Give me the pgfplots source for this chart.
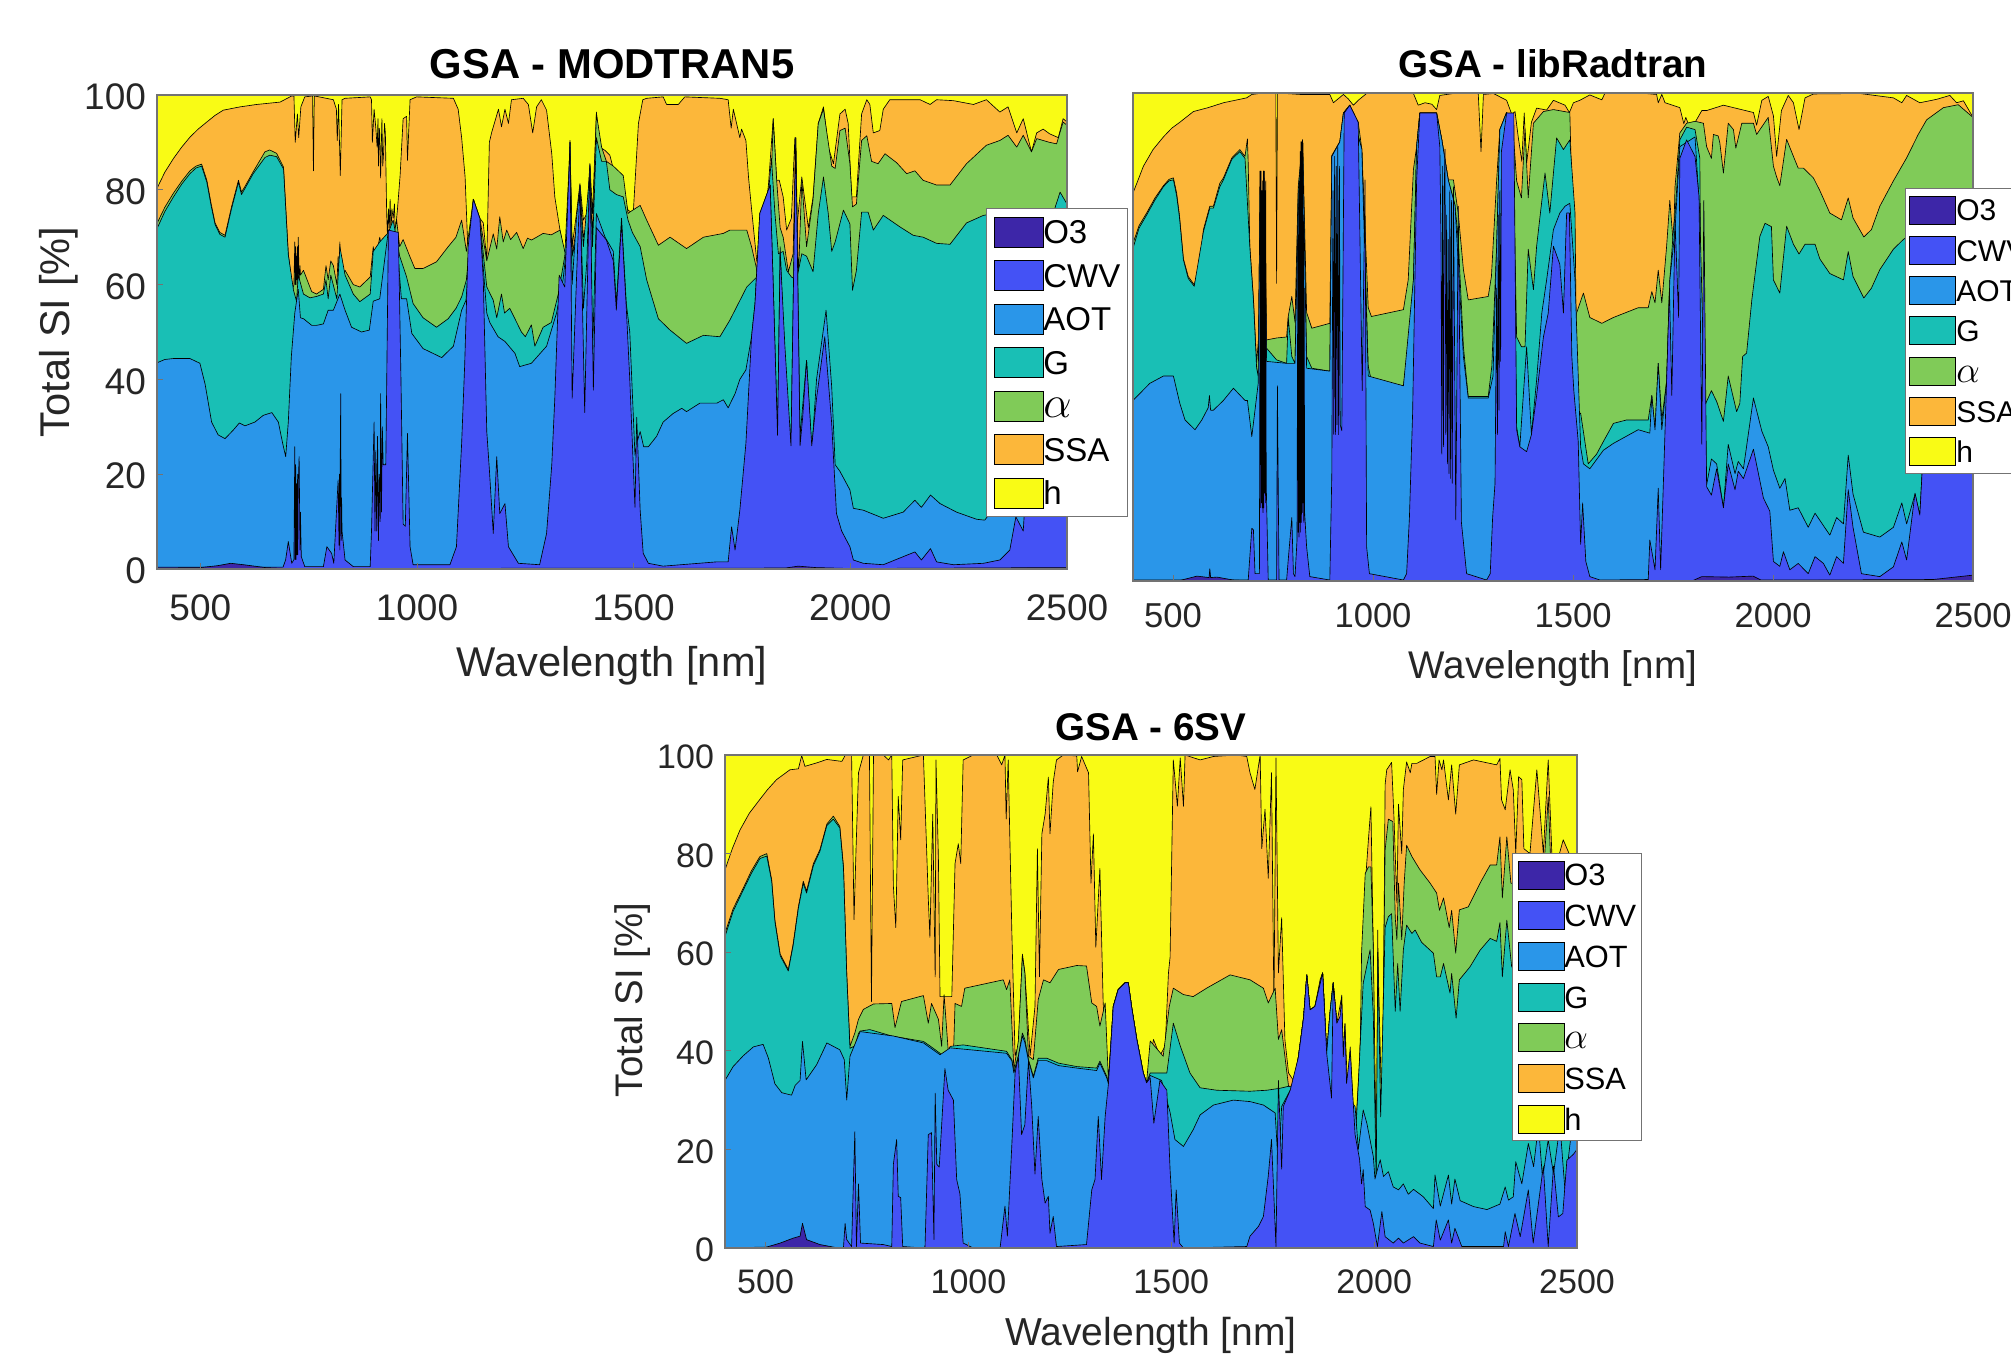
\documentclass[border=0pt]{standalone}
\usepackage{fontspec}
\setmainfont{Liberation Sans}
\usepackage{pgfplots}
\pgfplotsset{compat=1.18}
\definecolor{cO}{HTML}{3D26A8}
\definecolor{cC}{HTML}{4452F5}
\definecolor{cA}{HTML}{2A96E9}
\definecolor{cG}{HTML}{19BFB5}
\definecolor{cL}{HTML}{80CB58}
\definecolor{cS}{HTML}{FCB73A}
\definecolor{cH}{HTML}{F9FB15}
\definecolor{txt}{HTML}{262626}
\pgfplotsset{
  gsa/.style={
    scale only axis, axis on top, xmin=400, xmax=2500, ymin=0, ymax=100,
    xtick={500,1000,1500,2000,2500}, ytick={0,20,40,60,80,100},
    /pgf/number format/assume math mode=true,
    /pgf/number format/1000 sep={},
    tick align=inside, tick pos=left, major tick length=3pt,
    axis line style={color=black!55,line width=0.6pt},
    tick style={color=black!55,line width=0.4pt},
    tick label style={color=txt},
    label style={color=txt},
    every axis title shift=0pt,
    legend cell align=left,
    every axis plot/.append style={forget plot},
  },
  bnd/.style={fill=#1, draw=black, line width=0.32pt, line join=round},
}
\begin{document}
\begin{tikzpicture}
\path[use as bounding box] (0pt,0pt) rectangle (1005.5pt,678pt);
\clip (0pt,0pt) rectangle (1005.5pt,678pt);

% ---------------- GSA - MODTRAN5
\begin{axis}[gsa, at={(78.5pt,393.5pt)}, anchor=south west, width=455pt, height=237pt,
  title={GSA - MODTRAN5},
  title style={font=\fontsize{20.9}{24}\selectfont\bfseries,at={(axis description cs:0.5,1.0654)},anchor=center},
  xlabel={Wavelength [nm]}, ylabel={Total SI [\%]},
  xlabel style={font=\fontsize{20.8}{24}\selectfont,at={(axis description cs:0.5,-0.2046)},anchor=center},
  ylabel style={font=\fontsize{20.8}{24}\selectfont,at={(axis description cs:-0.1077,0.5)},anchor=center},
  tick label style={font=\fontsize{18.5}{21}\selectfont},
  xticklabel style={anchor=center,yshift=-19.5pt},
  yticklabel style={xshift=-2pt,yshift=-1pt},
  legend image code/.code={\draw[#1,draw=black,line width=0.4pt] (0pt,-7.5pt) rectangle (24.5pt,7.5pt);},
  legend style={at={(axis description cs:0.911,0.7616)},anchor=north west,draw=black!55,line width=0.5pt,
    font=\fontsize{16.5}{18}\selectfont,inner xsep=3.5pt,inner ysep=4pt,row sep=6.35pt,
    nodes={inner sep=0pt,text height=12pt,text depth=0pt},
    /tikz/every even column/.append style={column sep=4pt}},
]
\addlegendimage{fill=cO}\addlegendentry{O3}
\addlegendimage{fill=cC}\addlegendentry{CWV}
\addlegendimage{fill=cA}\addlegendentry{AOT}
\addlegendimage{fill=cG}\addlegendentry{G}
\addlegendimage{fill=cL}\addlegendentry{\scalebox{1.3}{$\alpha$}}
\addlegendimage{fill=cS}\addlegendentry{SSA}
\addlegendimage{fill=cH}\addlegendentry{h}
\addplot[fill=cH,draw=none] coordinates {(400,100)(2500,100)} \closedcycle;
% SSA top
\addplot[bnd=cS] coordinates {(400,80.3)(418,83.7)(438,86.6)(457,89)(476,91.1)(495,92.8)(515,94.3)(534,95.7)(553,96.8)(592,97.5)(630,98)(684,98.5)(711,99.8)(716,99.8)(719,90)(724,96)(727,91)(732,97.5)(741,99.6)(759,99.8)(761,84)(763,99.8)(807,99)(814,97)(816,90.4)(819,98)(823,83)(827,99)(834,99.3)(892,99.6)(895,99)(897,90)(901,97)(905,93)(908,89)(910,95)(911,85)(913,93)(914,92)(916,82.5)(919,95)(921,85)(923,88)(925,94)(927,92)(930,75)(932,70)(934,76)(936,72)(938,78)(940,71)(942,76)(945,74)(948,77)(950,70)(952,73)(955,76)(961,83)(968,95)(976,95.5)(978,86.2)(984,99)(999,99.6)(1084,99.3)(1095,97)(1103,91)(1111,82.7)(1118,66)(1130,78)(1145,74)(1153,73)(1161,65)(1167,90)(1172,92)(1188,97)(1195,93.3)(1203,97)(1211,94)(1218,99)(1245,99.3)(1257,98)(1267,92)(1276,97.5)(1287,99)(1299,96.8)(1311,87.6)(1318,78.5)(1330,71.5)(1337,68)(1345,66)(1349,68)(1353,90.4)(1358,68)(1368,75)(1376,81.3)(1384,73.6)(1392,75)(1399,85.5)(1405,75)(1414,96.4)(1422,89)(1434,88.3)(1445,87.3)(1457,83)(1468,83.4)(1476,79.2)(1487,75.7)(1499,75)(1511,94)(1521,99)(1530,99.3)(1568,99.6)(1576,98)(1603,98)(1618,99.6)(1699,99.3)(1718,99)(1725,93)(1730,97)(1745,91)(1749,92.8)(1759,90.4)(1765,82.7)(1772,76)(1784,65)(1795,64)(1803,75)(1811,81)(1822,95)(1830,82)(1836,82)(1845,78.5)(1853,71.5)(1864,74)(1872,91)(1876,71.5)(1888,82.7)(1903,72)(1914,78.5)(1926,94)(1938,97.5)(1949,89)(1961,85.5)(1976,96)(1988,97)(1995,94)(2003,78.5)(2014,78.5)(2026,96)(2038,99)(2045,98)(2053,92)(2068,92.5)(2076,97)(2091,99)(2161,99)(2184,98)(2199,99)(2238,98.8)(2284,98)(2314,99)(2345,96.4)(2364,97.5)(2384,92)(2399,95)(2418,88)(2430,92)(2445,92.8)(2460,91.8)(2480,91)(2491,95)(2500,94.3)} \closedcycle;
% alpha top
\addplot[bnd=cL] coordinates {(400,72.9)(418,76.3)(438,79.3)(457,81.8)(476,84)(490,85)(503,85.4)(515,82)(525,77)(534,73)(545,71)(557,70.4)(572,76.4)(588,82)(595,79.5)(603,80.7)(622,83.8)(649,88)(660,88.4)(676,87.7)(692,84.8)(703,66.5)(713,59)(716,60)(718,69)(719,60)(720,68)(721,60)(722,66)(723,61)(724,68)(725,60)(726,70)(728,61)(730,64)(731,62)(738,63)(757,58.5)(768,58)(784,59)(790,64)(795,61)(801,65)(807,64)(815,60)(818,66)(820,62)(822,69)(824,62)(826,66)(828,62)(834,63)(853,60)(868,59.5)(892,61.6)(899,68)(904,65)(914,70)(922,66)(934,71.5)(942,68)(953,73.6)(960,68)(968,69.5)(984,65.8)(995,63.4)(1014,63.4)(1045,64.8)(1072,68)(1090,70)(1103,73.6)(1114,67)(1130,78)(1145,74)(1161,65)(1176,70.7)(1184,67.5)(1191,74.3)(1199,69)(1207,71.5)(1216,69.5)(1230,71)(1245,67.6)(1255,69.8)(1264,69.4)(1276,70)(1291,70.8)(1310,70.5)(1330,71.5)(1341,67)(1349,66)(1353,90)(1358,66)(1368,72)(1376,81)(1384,70)(1392,73)(1399,85)(1405,70)(1414,96)(1426,89)(1437,86)(1453,85)(1476,83)(1487,75)(1491,75.3)(1515,76.7)(1530,73.6)(1557,68.3)(1584,70)(1622,67.6)(1661,70)(1707,70.8)(1722,71.5)(1761,71.5)(1772,68)(1788,61.6)(1799,70)(1815,75)(1822,95)(1830,82)(1838,72)(1845,70)(1857,62.7)(1868,66.5)(1874,91)(1880,61)(1888,82)(1899,68)(1914,78)(1926,94)(1938,97)(1957,85)(1965,84.5)(1976,92.5)(1988,93)(1999,85.5)(2005,76.4)(2014,77)(2026,90.4)(2038,91.4)(2049,86)(2064,85.5)(2080,87.6)(2107,85.7)(2130,83.4)(2149,84)(2168,82)(2199,81)(2230,81)(2268,85.5)(2314,89.4)(2345,90.4)(2364,91.5)(2384,89)(2399,91.5)(2418,88)(2430,90.8)(2460,90)(2476,89.7)(2491,94.3)(2500,93.6)} \closedcycle;
% G top
\addplot[bnd=cG] coordinates {(400,71.8)(418,75.4)(438,78.5)(457,81.2)(476,83.4)(490,84.6)(503,85)(515,81.6)(525,76.6)(534,72.7)(545,70.6)(557,70)(572,76)(588,81.6)(595,79)(603,80.3)(622,83.4)(649,86.8)(660,87.3)(676,87)(692,84.4)(703,66.3)(715,58.8)(722,56.5)(726,62)(738,58)(753,57.2)(768,57.5)(784,58)(790,61)(795,57)(801,62)(815,57)(822,68)(834,62)(853,58)(868,56.4)(892,58)(899,67)(914,69)(934,71)(945,73.6)(960,66)(976,61.6)(991,56)(1014,53)(1045,51)(1072,52.8)(1090,55)(1103,57.4)(1114,61)(1130,77.5)(1145,73.5)(1161,59.5)(1176,56.7)(1184,53)(1195,58)(1202,54)(1214,55)(1241,50)(1250,49)(1264,51.5)(1272,47)(1291,51)(1310,52)(1326,58)(1341,66)(1353,89)(1358,66)(1368,70)(1376,80)(1384,68)(1399,84)(1405,68)(1414,91)(1426,86)(1437,86)(1445,80)(1460,79)(1476,78.5)(1487,73.6)(1497,71)(1515,68)(1530,61)(1557,52.8)(1584,50.4)(1622,47.6)(1661,49.3)(1699,49)(1722,52.5)(1761,59.5)(1784,61.6)(1807,75)(1818,86.6)(1826,75)(1834,66.5)(1845,67)(1853,63)(1864,61.6)(1876,61)(1888,66.5)(1899,66)(1914,62.7)(1926,75)(1938,82.7)(1949,75)(1957,67)(1965,69)(1984,75.7)(1999,72.8)(2005,58.8)(2014,63)(2026,75.3)(2041,75.3)(2053,71.5)(2076,74.6)(2114,72.2)(2145,70.4)(2168,70)(2199,68.7)(2230,68.5)(2268,73)(2307,74.6)(2400,76)(2468,75)(2484,79.5)(2500,77)} \closedcycle;
% AOT top
\addplot[bnd=cA] coordinates {(400,43.5)(418,44.2)(438,44.4)(476,44.4)(499,43.4)(511,39)(526,31)(541,28.3)(557,27.5)(576,29.3)(590,30.8)(603,30.2)(626,31)(645,32.4)(665,33)(680,31)(690,26.5)(697,23.7)(703,31)(710,44.8)(718,54)(726,59)(731,53)(738,52.8)(757,51.4)(768,51.4)(784,51.7)(795,54.6)(807,54.6)(822,58)(834,54.6)(849,51)(872,50)(890,50.4)(899,56.5)(914,57)(934,71.5)(953,69.5)(964,57)(976,57)(988,49.7)(1014,46.5)(1057,44.6)(1084,47)(1103,54.6)(1113,56.7)(1130,77)(1145,73)(1161,54)(1168,52)(1187,49)(1203,48)(1226,45.5)(1237,42.7)(1264,43.4)(1299,47)(1322,54)(1337,61)(1349,71)(1353,90)(1358,60)(1368,74)(1376,80.5)(1384,55)(1392,65)(1399,85)(1405,45)(1414,75)(1434,70)(1453,67)(1460,56)(1472,74)(1483,56)(1491,50)(1503,24)(1507,26.5)(1515,29)(1523,25.8)(1534,25.8)(1553,28)(1568,31)(1591,32.8)(1611,33.9)(1622,33.2)(1653,35)(1692,35)(1707,35.7)(1718,34)(1734,37)(1745,40)(1759,42)(1772,49)(1780,56)(1791,75)(1815,81)(1822,60)(1832,28)(1838,68)(1853,31)(1863,26)(1874,91)(1884,28)(1899,44)(1911,25)(1922,40)(1944,54.6)(1957,38.4)(1965,22)(1976,20.6)(1999,16.7)(2007,12.8)(2030,12.4)(2076,10.7)(2122,12)(2149,14.5)(2164,13)(2185,15.6)(2207,13.8)(2245,12)(2291,10.5)(2310,10.3)(2350,15)(2390,26)(2468,68)(2484,76)(2500,73)} \closedcycle;
% CWV top
\addplot[bnd=cC] coordinates {(400,0.4)(691,0.4)(697,2)(703,5.8)(711,1.2)(716,2)(718,25.8)(719,2)(720,22)(721,2)(722,18)(723,3)(724,20)(725,3)(726,18)(728,23.7)(730,4)(731,12)(733,2.6)(741,0.5)(784,0.5)(792,4.7)(803,3.3)(808,1.2)(818,18.8)(820,5)(821,20)(822,4)(823,25)(824,37)(825,6)(826,15)(827,8)(834,1.9)(853,0.5)(892,0.5)(895,8)(901,31)(903,8)(905,25)(907,8)(909,28)(911,6)(913,20)(915,10)(916,37)(918,12)(920,30)(922,22)(928,22)(934,71.5)(957,71)(963,40)(968,9.5)(973,9)(978,28.6)(984,4.7)(991,0.9)(1076,0.9)(1091,4.7)(1103,26.5)(1110,43)(1118,68)(1130,78)(1145,74)(1153,60.9)(1161,29)(1167,21)(1176,7.5)(1184,23.7)(1191,11.7)(1203,13.8)(1211,4.7)(1234,1.2)(1283,0.9)(1299,7.5)(1311,22)(1318,36)(1328,62)(1341,59.5)(1353,90)(1358,36)(1376,81)(1387,33)(1399,85.5)(1407,37.7)(1414,72)(1437,69.4)(1453,65)(1460,54.6)(1472,73)(1483,55)(1491,40)(1503,13)(1507,32)(1515,12.4)(1522,3.3)(1534,1.2)(1568,0.6)(1691,1.5)(1718,1.5)(1726,8.9)(1734,4)(1745,12.4)(1759,26.5)(1772,49)(1780,56)(1791,75)(1815,81)(1822,60)(1832,28.2)(1838,67)(1849,47)(1863,26)(1874,91)(1884,26)(1890,32)(1899,44)(1911,26)(1922,36)(1941,49)(1957,30.7)(1968,11.7)(1980,8)(1999,4.7)(2007,1.9)(2030,1.2)(2076,0.9)(2149,3.6)(2164,1.9)(2185,4.3)(2199,1.5)(2238,0.9)(2307,1.2)(2345,1.9)(2368,4)(2382,11)(2399,8)(2420,40)(2467,68)(2500,75)} \closedcycle;
% O3 top
\addplot[bnd=cO] coordinates {(400,0.2)(500,0.3)(540,0.7)(570,1.2)(600,0.9)(650,0.3)(700,0.1)(1850,0.2)(1880,0.6)(1920,0.3)(2000,0.1)(2500,0.3)} \closedcycle;
\end{axis}

% ---------------- GSA - libRadtran
\begin{axis}[gsa, at={(566.5pt,387.5pt)}, anchor=south west, width=420pt, height=244pt,
  title={GSA - libRadtran},
  title style={font=\fontsize{19.3}{22}\selectfont\bfseries,at={(axis description cs:0.5,1.059)},anchor=center},
  xlabel={Wavelength [nm]},
  xlabel style={font=\fontsize{19.3}{22}\selectfont,at={(axis description cs:0.5,-0.180)},anchor=center},
  ytick=\empty,
  tick label style={font=\fontsize{17.3}{20}\selectfont},
  xticklabel style={anchor=center,yshift=-17.5pt},
  legend image code/.code={\draw[#1,draw=black,line width=0.4pt] (0pt,-7pt) rectangle (23pt,7pt);},
  legend style={at={(axis description cs:0.919,0.8053)},anchor=north west,draw=black!55,line width=0.5pt,
    font=\fontsize{15}{17}\selectfont,inner xsep=2pt,inner ysep=3.5pt,row sep=5.75pt,
    nodes={inner sep=0pt,text height=11pt,text depth=0pt},
    /tikz/every even column/.append style={column sep=3.5pt}},
]
\addlegendimage{fill=cO}\addlegendentry{O3}
\addlegendimage{fill=cC}\addlegendentry{CWV}
\addlegendimage{fill=cA}\addlegendentry{AOT}
\addlegendimage{fill=cG}\addlegendentry{G}
\addlegendimage{fill=cL}\addlegendentry{\scalebox{1.3}{$\alpha$}}
\addlegendimage{fill=cS}\addlegendentry{SSA}
\addlegendimage{fill=cH}\addlegendentry{h}
\addplot[fill=cH,draw=none] coordinates {(400,100)(2500,100)} \closedcycle;
% SSA top
\addplot[bnd=cS] coordinates {(400,79.5)(426,85)(450,88.4)(476,91)(497,92.8)(517,94)(551,96.2)(588,97)(626,98)(684,99)(697,99.7)(726,100)(757,100)(759,61)(761,100)(818,99.7)(892,99.7)(901,98)(926,99.7)(938,98.8)(951,97.5)(963,98.5)(984,99.9)(1101,99.9)(1113,97.5)(1130,98)(1147,97.7)(1159,96.6)(1167,99.5)(1201,99.9)(1263,100)(1270,88)(1276,99.7)(1301,99.9)(1334,98.5)(1347,95.6)(1355,96.2)(1363,91)(1372,86)(1378,95.9)(1384,85.6)(1396,94)(1409,96.9)(1434,96.5)(1451,98.5)(1480,97.5)(1491,96)(1501,98)(1517,98.5)(1542,99.6)(1572,98.6)(1580,100)(1617,100)(1667,100)(1709,99.7)(1713,98)(1722,99.7)(1730,98)(1767,97)(1777,93.7)(1782,95)(1788,93.7)(1801,93.4)(1822,96.4)(1834,96.4)(1876,97.5)(1951,96)(1959,93.4)(1972,98.5)(1988,99.3)(2001,95.3)(2009,87)(2021,96.4)(2038,99.5)(2051,98)(2065,92.5)(2080,99)(2101,99.8)(2217,99.9)(2301,99)(2322,98)(2334,99.5)(2367,98)(2409,98.7)(2442,99.5)(2459,98)(2476,98.4)(2500,95)} \closedcycle;
% alpha top
\addplot[bnd=cL] coordinates {(400,69.2)(415,72.8)(434,75.4)(455,78.5)(476,81)(490,82.3)(501,82.6)(509,79.5)(516,75)(526,66)(538,62.4)(553,60.7)(567,64.5)(576,72)(592,76.8)(601,76.8)(617,81.5)(626,82.6)(647,86.7)(667,88.4)(680,87)(686,90.6)(688,85.6)(692,68.5)(701,58)(709,44.6)(714,50)(718,84)(722,50)(727,84)(734,49.4)(759,49.8)(784,50)(788,54.2)(797,58.3)(805,53)(813,80.8)(824,90.4)(834,55)(847,51.8)(892,52.8)(897,87.2)(917,90)(926,95.9)(942,97.5)(963,94)(972,88.5)(988,56)(996,54.2)(1076,55.6)(1088,61.7)(1101,84.3)(1109,89)(1117,95.9)(1159,95.9)(1172,90.4)(1188,82.2)(1201,82.2)(1213,75.4)(1226,63.8)(1238,57.6)(1288,58.3)(1296,62.4)(1309,82)(1317,92.5)(1334,96)(1349,93.8)(1359,82)(1371,78.5)(1380,92.5)(1388,78.5)(1401,93.8)(1426,96.2)(1451,96.6)(1492,96)(1505,54)(1526,59)(1542,54)(1572,52.8)(1601,54)(1663,56)(1688,56)(1697,59.3)(1705,57)(1713,63.7)(1722,57)(1734,68.6)(1742,78)(1751,68.6)(1755,80.8)(1767,91.8)(1784,93.8)(1805,94.2)(1826,93.8)(1834,89)(1846,86.6)(1851,91.5)(1863,91.2)(1867,89.8)(1876,83.6)(1888,93.8)(1901,92.5)(1907,88.7)(1922,93.8)(1951,93.8)(1959,91.5)(1988,95)(2001,85)(2009,82.8)(2017,81)(2034,90.5)(2051,87)(2063,84.6)(2076,84.6)(2101,82.6)(2117,80)(2142,75.4)(2171,74)(2188,78.5)(2200,74.4)(2227,70.5)(2246,72)(2267,76.8)(2301,82)(2334,86.7)(2363,91.5)(2384,94.5)(2426,97)(2463,97.6)(2500,95)} \closedcycle;
% G top
\addplot[bnd=cG] coordinates {(400,68.2)(415,72.3)(434,75)(455,78.1)(476,80.8)(490,82)(501,82.2)(509,79)(516,74.6)(526,65.8)(538,62)(553,60.4)(576,71.6)(592,76.4)(601,76.4)(617,80.8)(626,82.2)(647,86.4)(667,88)(680,86.6)(692,68.5)(701,57.6)(709,43.6)(713,42)(718,84)(722,45)(727,84)(734,47.7)(759,45.3)(784,44.6)(788,54)(797,46)(805,44.6)(813,80)(824,90.4)(834,46)(847,43.6)(892,43)(897,87)(917,90)(926,95.9)(942,97.5)(972,88.5)(988,44)(996,41)(1076,40)(1088,47)(1101,61.7)(1109,89)(1117,95.9)(1159,95.9)(1172,90.4)(1188,82.2)(1205,77)(1213,70)(1226,48)(1238,37.8)(1288,37.8)(1297,44)(1309,68.6)(1317,92.5)(1334,96)(1349,93.8)(1359,50)(1371,48)(1380,48)(1388,68)(1401,59.7)(1409,68.6)(1430,83.6)(1442,75.4)(1459,90.8)(1476,88.4)(1492,90.4)(1505,75.4)(1510,34)(1519,34.4)(1538,24)(1559,26)(1576,28.6)(1601,32.3)(1634,33)(1688,33)(1697,38)(1705,31)(1713,44.6)(1722,33)(1734,41)(1742,61.7)(1751,72)(1755,75)(1767,90.4)(1784,93)(1805,92.5)(1817,86.6)(1822,34.4)(1834,36.8)(1846,39)(1859,36.8)(1876,32.7)(1888,42)(1909,34.7)(1917,36.4)(1924,46)(1934,46.7)(1947,57.6)(1967,70.6)(1980,73.3)(1996,72.6)(2001,61.7)(2017,59)(2034,72.7)(2051,69)(2065,67)(2080,69)(2105,69)(2117,66)(2142,63)(2176,61.7)(2188,67.5)(2200,62.4)(2227,58)(2246,60)(2267,63.8)(2301,68)(2326,70)(2351,71.3)(2409,74)(2500,76)} \closedcycle;
% AOT top
\addplot[bnd=cA] coordinates {(400,37)(442,40.5)(476,42)(501,42)(517,36.4)(530,33)(555,31)(572,33)(588,35.5)(591,38)(594,35)(601,35)(626,37)(651,39.5)(680,37)(686,37)(697,29.6)(713,40.5)(718,84)(722,44)(727,84)(734,45)(784,44.6)(805,44.6)(813,75.4)(824,90.4)(834,43.6)(892,43)(897,87)(917,90)(926,95.9)(942,97.5)(972,88.5)(988,42)(1076,40)(1101,61.7)(1109,89)(1117,95.9)(1159,95.9)(1172,90.4)(1188,82.2)(1205,77)(1226,46)(1238,37.5)(1288,37.5)(1300,42)(1309,68.6)(1317,92.5)(1334,96)(1349,93.8)(1359,31.6)(1367,27.5)(1384,48)(1396,30)(1409,41.2)(1422,54.9)(1434,61.7)(1451,72)(1467,75.4)(1480,76.8)(1492,77.4)(1505,61.7)(1519,27.5)(1526,24)(1542,23)(1576,26.8)(1601,28.2)(1663,31)(1692,30.3)(1697,38)(1705,31)(1713,44.6)(1722,31)(1734,41)(1742,61.7)(1755,72)(1767,89)(1805,91)(1817,75.4)(1834,19.7)(1846,25)(1859,24)(1876,15)(1888,28)(1905,22)(1913,24.5)(1926,23)(1951,37.5)(1972,30.7)(1988,27.5)(2001,22.7)(2017,19)(2030,21)(2042,14.5)(2063,15)(2088,11)(2105,13.9)(2142,9.4)(2159,13)(2176,11.7)(2188,25.8)(2200,17.8)(2226,10)(2267,9)(2301,11)(2322,16)(2334,11.7)(2355,17.8)(2367,13.5)(2376,27.5)(2420,50)(2500,70)} \closedcycle;
% CWV top
\addplot[bnd=cC] coordinates {(400,0.2)(688,0.2)(697,10.8)(701,10.5)(705,1.5)(716,1.5)(718,84)(719,15)(720,84)(721,16)(722,80)(723,15)(724,82)(725,14)(726,84)(727,15)(728,84)(729,18)(730,80)(731,16)(732,82)(733,20)(738,0.2)(759,0.2)(761,40)(765,0.2)(784,0.2)(788,4.3)(797,13)(801,1.5)(805,0.9)(810,8.4)(812,70)(813,10)(814,80)(815,9)(816,82)(817,12)(818,88)(819,10)(820,90)(821,12)(822,90)(823,14)(824,88)(825,16)(826,75)(827,12)(828,60)(829,14)(834,7)(842,0.9)(892,0.2)(897,22)(900,80)(902,30)(904,87)(906,30)(908,85)(910,32)(912,89)(914,30)(916,85)(918,32)(922,30.8)(928,95.9)(942,97.5)(963,94)(973,39)(980,82.2)(984,7)(991,1.5)(1076,0.2)(1084,1.5)(1091,13)(1099,34.4)(1109,82)(1117,95.9)(1159,95.9)(1167,89)(1170,70)(1172,26)(1174,85)(1176,27.5)(1178,80)(1180,88.5)(1182,30)(1184,75)(1186,24)(1188,70)(1190,22)(1192,80)(1194,21)(1196,78)(1198,20)(1201,80.8)(1207,12.5)(1213,76.8)(1221,12)(1234,1.5)(1284,0.2)(1293,1.5)(1299,13)(1305,20)(1309,60)(1311,30)(1313,75)(1315,35)(1317,80)(1319,45)(1321,88)(1334,95.9)(1352,95.9)(1359,31)(1367,27.5)(1384,26.5)(1396,30)(1409,38)(1426,50)(1438,54.9)(1451,68.6)(1467,64.9)(1476,54.9)(1484,75.4)(1491,75.4)(1497,46)(1502,39)(1513,28.6)(1519,7.5)(1524,16)(1532,4)(1542,0.9)(1567,0.2)(1688,0.3)(1692,8.4)(1705,2.3)(1713,19)(1719,2.3)(1734,41)(1741,60)(1747,38)(1755,74)(1764,54)(1767,86.6)(1784,90.4)(1805,87)(1815,78.8)(1822,28)(1827,78)(1834,19.3)(1846,17.6)(1859,23)(1876,15)(1888,24)(1905,18.7)(1913,22.5)(1926,21)(1951,27)(1976,17)(1992,14.3)(2001,4)(2017,3)(2026,6)(2042,2.3)(2063,3.6)(2088,1.5)(2105,5)(2126,3.6)(2142,1.2)(2159,5)(2176,3.6)(2188,18.7)(2200,11)(2221,1.5)(2267,0.9)(2301,2.9)(2322,8)(2334,4.3)(2355,18)(2367,13.5)(2376,27.5)(2440,50)(2500,55)} \closedcycle;
% O3 top
\addplot[bnd=cO] coordinates {(400,0)(517,0.1)(560,1)(590,0.7)(592,2.5)(594,0.7)(610,0.8)(650,0.2)(700,0)(1800,0.1)(1822,0.9)(1890,0.8)(1950,1)(1970,0.2)(2100,0.2)(2400,0.3)(2500,1.2)} \closedcycle;
\end{axis}

% ---------------- GSA - 6SV
\begin{axis}[gsa, at={(362.5pt,54pt)}, anchor=south west, width=426pt, height=246.5pt,
  title={GSA - 6SV},
  title style={font=\fontsize{19.3}{22}\selectfont\bfseries,at={(axis description cs:0.5,1.0568)},anchor=center},
  xlabel={Wavelength [nm]}, ylabel={Total SI [\%]},
  xlabel style={font=\fontsize{19.5}{22}\selectfont,at={(axis description cs:0.5,-0.178)},anchor=center},
  ylabel style={font=\fontsize{19.2}{22}\selectfont,at={(axis description cs:-0.109,0.503)},anchor=center},
  tick label style={font=\fontsize{17}{20}\selectfont},
  xticklabel style={anchor=center,yshift=-17pt},
  yticklabel style={xshift=-2pt,yshift=-1pt},
  legend image code/.code={\draw[#1,draw=black,line width=0.4pt] (0pt,-7pt) rectangle (23pt,7pt);},
  legend style={at={(axis description cs:0.9237,0.8012)},anchor=north west,draw=black!55,line width=0.5pt,
    font=\fontsize{15.4}{17}\selectfont,inner xsep=2.5pt,inner ysep=3.5pt,row sep=5.95pt,
    nodes={inner sep=0pt,text height=11pt,text depth=0pt},
    /tikz/every even column/.append style={column sep=3.5pt}},
]
\addlegendimage{fill=cO}\addlegendentry{O3}
\addlegendimage{fill=cC}\addlegendentry{CWV}
\addlegendimage{fill=cA}\addlegendentry{AOT}
\addlegendimage{fill=cG}\addlegendentry{G}
\addlegendimage{fill=cL}\addlegendentry{\scalebox{1.3}{$\alpha$}}
\addlegendimage{fill=cS}\addlegendentry{SSA}
\addlegendimage{fill=cH}\addlegendentry{h}
\addplot[fill=cH,draw=none] coordinates {(400,100)(2500,100)} \closedcycle;
% SSA top
\addplot[bnd=cS] coordinates {(400,76.7)(418,81)(437,84.8)(460,88.2)(486,91)(505,93)(527,95)(560,97)(581,97.2)(589,99.9)(597,97.7)(626,98.4)(651,99.1)(688,98.7)(696,99.9)(712,100)(718,66.6)(723,81)(729,96.4)(741,100)(756,100)(761,50)(766,100)(790,100)(803,99)(811,100)(815,73.4)(821,65)(827,91.6)(833,82.8)(838,99)(889,100)(901,71)(905,63)(912,88)(918,55)(920,99)(926,79)(930,51)(959,51)(967,78)(975,82)(981,78)(987,99)(1012,100)(1070,100)(1082,98)(1090,100)(1093,87)(1098,99)(1107,64)(1115,39)(1123,41)(1133,59.6)(1139,56)(1152,39)(1164,49)(1170,81)(1175,55)(1181,84)(1189,88)(1197,95.5)(1201,84)(1209,94.5)(1217,99)(1234,100)(1267,99.8)(1269,96.6)(1279,99.7)(1296,96.4)(1302,74)(1308,84)(1314,61)(1324,77)(1332,50)(1341,34.8)(1349,35.5)(1357,49)(1369,52.4)(1386,53.8)(1394,53.8)(1402,49)(1415,42.3)(1431,35.5)(1439,33.5)(1456,42.3)(1472,39)(1485,41)(1493,55.8)(1497,59)(1505,99)(1515,89.6)(1522,99.4)(1530,89.6)(1534,100)(1571,99)(1604,99.7)(1661,100)(1686,99.7)(1694,96.4)(1706,93)(1719,100)(1723,81)(1731,89)(1739,75)(1747,96.4)(1753,49)(1758,99.4)(1764,55.8)(1772,67)(1780,42.3)(1789,35.5)(1801,34)(1813,38.6)(1826,46.7)(1834,55.4)(1842,48.3)(1854,49)(1867,54.5)(1873,55.8)(1883,39.5)(1891,47.6)(1899,53.8)(1908,45.6)(1920,51)(1924,39)(1928,45.5)(1934,33)(1941,40.8)(1949,27)(1955,25)(1964,38)(1973,60)(1980,76)(1986,83)(1992,89.5)(1998,60)(2002,30)(2006,14.5)(2009,64.5)(2013,14)(2019,20)(2023,50)(2027,94)(2031,97)(2043,98.5)(2049,87)(2056,70)(2060,90)(2068,80)(2072,93)(2080,98.6)(2089,96.4)(2093,98.3)(2105,98.3)(2138,99.7)(2150,99.7)(2154,92)(2160,99)(2167,97)(2171,99)(2183,90.9)(2191,98)(2201,88)(2210,98)(2245,99)(2302,98)(2310,99.3)(2314,90.9)(2323,88.9)(2335,97)(2343,92.9)(2349,80)(2356,95.6)(2364,95)(2369,81)(2384,80)(2401,97)(2417,80)(2429,99)(2438,80)(2450,78)(2466,82.8)(2491,78)(2500,78)} \closedcycle;
% alpha top
\addplot[bnd=cL] coordinates {(400,63.9)(420,68.8)(445,73)(465,76.5)(486,79.4)(503,80)(515,74.7)(523,66.5)(536,59.6)(556,56.5)(568,61.7)(581,69.3)(593,74.4)(601,72.4)(618,78)(634,80.8)(651,86)(667,87.6)(683,85.5)(692,77.4)(700,55.8)(708,40.9)(720,43.6)(729,46.4)(741,48.4)(766,49.5)(811,49.6)(819,44.7)(835,50)(889,51.2)(901,45.6)(909,49.6)(926,46.4)(934,40.9)(940,51.4)(950,40.2)(963,38.9)(967,49.6)(983,49)(991,52.7)(1086,54.4)(1094,52.4)(1102,54.4)(1112,36.2)(1123,42)(1133,59.2)(1139,55.8)(1148,38.9)(1160,38.2)(1172,50.4)(1185,54.4)(1201,53.8)(1222,56.5)(1267,57.3)(1291,57.2)(1304,49.7)(1316,49)(1324,45)(1337,49.7)(1345,34)(1357,49)(1369,52.4)(1386,53.8)(1394,53.8)(1402,49)(1415,42.3)(1431,35.5)(1439,33.5)(1448,42)(1480,38.9)(1495,49)(1505,52.7)(1530,51.4)(1554,51)(1587,52.7)(1645,55.4)(1694,54.4)(1727,52.7)(1739,49.7)(1756,52.7)(1764,42.3)(1772,44.3)(1789,32.8)(1801,32.8)(1813,38.6)(1826,46.7)(1834,55.4)(1842,48.3)(1854,49)(1873,55.8)(1883,39.5)(1891,47.6)(1899,53.8)(1908,45.6)(1924,39)(1934,33)(1941,35)(1949,26.5)(1955,24.5)(1964,30)(1969,60)(1978,76)(1986,77.3)(1992,77.3)(1998,60.5)(2006,13)(2009,60)(2019,27)(2027,80.7)(2035,87)(2046,86.5)(2052,67)(2056,62.5)(2060,74)(2068,62.5)(2074,74)(2080,81.7)(2093,79.4)(2113,76.7)(2138,74)(2154,72)(2161,68.5)(2171,71)(2185,65)(2191,68.5)(2201,59.8)(2210,68.6)(2232,69.2)(2261,74)(2286,77.7)(2302,77.7)(2310,83.4)(2316,71)(2327,83.4)(2337,74)(2349,74)(2380,70)(2417,75)(2429,91.5)(2438,72)(2500,70)} \closedcycle;
% G top
\addplot[bnd=cG] coordinates {(400,63.2)(420,68.3)(445,72.6)(465,76)(486,79)(503,79.5)(515,74.4)(523,66.2)(536,59.3)(556,56.2)(568,61.4)(581,69)(593,74)(601,72)(618,77.6)(634,80.5)(651,85.7)(667,87)(683,85.2)(692,77)(700,55.5)(708,40.5)(720,41)(729,43.5)(733,44)(757,44.3)(811,43)(889,41.9)(905,41)(930,39.5)(941,38.2)(955,40.9)(987,41.2)(1094,39.9)(1107,38.2)(1112,35.5)(1123,38.9)(1133,43.6)(1139,42.3)(1148,38.2)(1160,34.8)(1172,38.5)(1193,38.5)(1222,37.5)(1267,36.8)(1316,36.5)(1324,37.9)(1341,34.8)(1345,33.5)(1357,49)(1369,52.4)(1386,53.8)(1394,53.8)(1402,49)(1415,42.3)(1431,35.5)(1439,33.5)(1448,35.5)(1472,35.5)(1489,35.5)(1505,45.6)(1522,41)(1546,35.5)(1571,32.5)(1612,32)(1694,31.8)(1735,32)(1768,32.4)(1789,32.8)(1801,32.5)(1813,38.6)(1826,46.7)(1834,55.4)(1842,48.3)(1854,49)(1873,55.8)(1883,39.5)(1891,47.6)(1899,53.8)(1908,45.6)(1924,38)(1934,33)(1941,33)(1949,26)(1955,24)(1961,33.4)(1973,53.7)(1990,60.5)(1998,47)(2005,13)(2009,60)(2016,26.6)(2027,65)(2035,67.2)(2043,67.8)(2052,48)(2058,57.7)(2064,48)(2072,60.5)(2080,65.5)(2093,63.8)(2101,64.5)(2117,62)(2146,59.8)(2154,55)(2163,55)(2171,57.7)(2187,51.7)(2191,55.7)(2202,46.6)(2210,54.4)(2236,57)(2261,60.4)(2286,62.8)(2302,62.2)(2310,66)(2316,55)(2327,66.5)(2339,57)(2352,60)(2500,55)} \closedcycle;
% AOT top
\addplot[bnd=cA] coordinates {(400,34)(420,36.8)(445,39)(470,40.8)(494,41.3)(507,38.5)(523,33.3)(540,31.5)(564,31)(573,33)(585,34)(591,41.9)(600,34.1)(626,37.2)(651,41.6)(683,40.2)(694,38.2)(700,30)(708,38.9)(733,43.9)(815,43)(889,41.6)(930,39.2)(955,40.6)(1094,39.5)(1107,38)(1112,35.5)(1123,38.9)(1133,43)(1139,41.7)(1148,38)(1160,34.5)(1172,38)(1193,38)(1222,37)(1267,36.5)(1316,36)(1324,37.5)(1341,34.5)(1345,33.3)(1357,49)(1369,52.4)(1386,53.8)(1394,53.8)(1402,49)(1415,42.3)(1431,35.5)(1439,33.5)(1448,35)(1476,34)(1497,27.5)(1509,22)(1530,20.6)(1554,24)(1571,27)(1604,29)(1653,30)(1694,29.7)(1727,29)(1756,27.4)(1764,16)(1772,28.7)(1793,32)(1801,32)(1813,38.6)(1826,46.7)(1834,55.4)(1842,48.3)(1854,49)(1873,55.8)(1883,39.5)(1891,47.6)(1899,53.8)(1908,45.6)(1924,38)(1941,30)(1953,28.7)(1961,20)(1973,28)(1982,25.3)(1998,18.5)(2002,14)(2008,15.9)(2015,17.9)(2023,14.5)(2035,15.5)(2047,12.4)(2060,11.8)(2072,13)(2084,10.9)(2097,11.9)(2121,10.4)(2146,8)(2150,14.8)(2163,8.5)(2183,14.8)(2191,8.9)(2199,14)(2212,9.6)(2245,8.4)(2278,7.8)(2310,8.9)(2323,12.4)(2331,9.7)(2343,10.4)(2349,17.5)(2364,13)(2380,21.2)(2393,16.5)(2405,25)(2415,14)(2429,22)(2442,15)(2458,25)(2470,12)(2484,22)(2500,25)} \closedcycle;
% CWV top
\addplot[bnd=cC] coordinates {(400,0.1)(692,0.1)(696,5)(700,1.7)(712,0.3)(720,23.6)(724,0.3)(729,13)(734,1)(790,0.7)(811,0.3)(815,17)(823,22)(827,10.5)(833,10.2)(838,0.3)(889,0)(893,0.3)(901,23)(909,23.4)(915,1.7)(918,31.4)(922,17)(928,16.4)(942,36.4)(950,32)(963,30)(971,13.9)(979,11)(987,1)(1012,0)(1078,0)(1090,8.5)(1096,2.4)(1107,21)(1115,35.5)(1123,38.9)(1131,23)(1139,25)(1148,38)(1156,28.7)(1164,15)(1172,26.7)(1181,13.9)(1189,9.1)(1197,10.5)(1201,3)(1209,6.4)(1217,0.3)(1291,0.7)(1304,11.8)(1312,13.9)(1320,26.7)(1328,13.9)(1337,26.7)(1345,33.3)(1357,49)(1369,52.4)(1386,53.8)(1394,53.8)(1402,49)(1415,42.3)(1431,35.5)(1439,33.5)(1448,34.5)(1457,25.3)(1472,34)(1489,32)(1497,15.9)(1507,1)(1512,11.8)(1520,1)(1530,0)(1686,0.3)(1694,2.4)(1715,4.4)(1727,6.4)(1739,14.6)(1747,22)(1758,0.3)(1764,34)(1772,16)(1776,28.7)(1793,32)(1813,38.6)(1826,46.7)(1834,55.4)(1842,48.3)(1854,49)(1873,55.8)(1883,39.5)(1895,30.4)(1899,53.8)(1908,45.6)(1916,47)(1920,51.3)(1924,38.8)(1928,45.5)(1932,33.4)(1941,40)(1953,23)(1964,18)(1969,13)(1973,15.9)(1978,8.4)(1990,7.7)(1998,5)(2008,0.3)(2019,7.4)(2027,2.3)(2047,1)(2060,2)(2072,1)(2097,2.3)(2113,1)(2146,0.3)(2153,5.7)(2163,1.6)(2183,5.7)(2191,1)(2199,4)(2216,0.3)(2319,0.3)(2323,3.3)(2331,0.3)(2347,7)(2360,2.3)(2380,11.8)(2392,1)(2417,16.6)(2429,0.3)(2442,16.6)(2454,6.3)(2465,7)(2475,17.8)(2491,19)(2500,20)} \closedcycle;
% O3 top
\addplot[bnd=cO] coordinates {(400,0)(503,0.2)(536,1)(568,2)(585,2.4)(591,5)(601,1.7)(634,0.7)(679,0)(2500,0)} \closedcycle;
\end{axis}
\end{tikzpicture}
\end{document}
